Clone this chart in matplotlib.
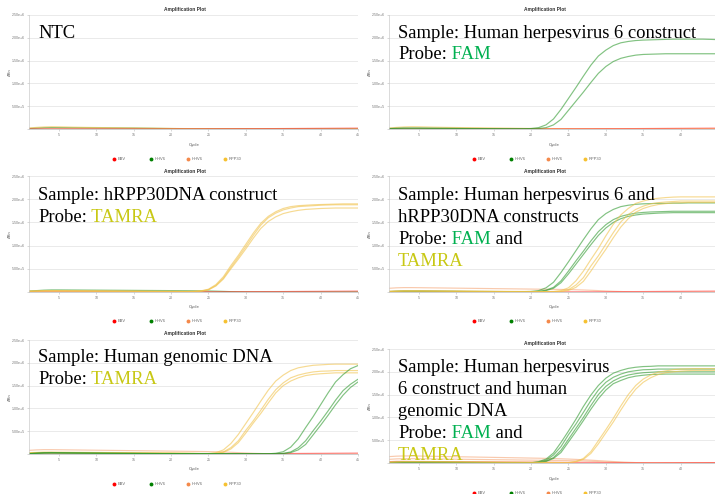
import matplotlib
matplotlib.use("Agg")
import matplotlib.pyplot as plt

W, H = 715, 494

# ---------------- data (dRn in units of 1e6, cycles 1..45) ----------------
cycles = list(range(1, 46))
y_tick_values = [0.0, 0.5, 1.0, 1.5, 2.0, 2.5]
y_tick_labels = ["", "5.00e+5", "1.00e+6", "1.50e+6", "2.00e+6", "2.50e+6"]
x_tick_values = [5, 10, 15, 20, 25, 30, 35, 40, 45]
x_tick_labels = ["5", "10", "15", "20", "25", "30", "35", "40", "45"]
legend_names = ["EBV", "HHV6", "HHV6", "RPP30"]

bump_a = [0.020,0.035,0.045,0.050,0.048,0.044,0.040,0.037,0.034,0.032,
          0.030,0.028,0.026,0.024,0.022,0.020,0.018,0.016,0.014,0.012,
          0.010,0.009,0.008,0.007,0.006,0.005,0.005,0.004,0.004,0.004,
          0.003,0.003,0.003,0.003,0.003,0.003,0.003,0.003,0.003,0.003,
          0.003,0.003,0.003,0.003,0.003]
bump_b = [0.010,0.020,0.028,0.031,0.030,0.029,0.028,0.027,0.026,0.025,
          0.024,0.023,0.022,0.021,0.020,0.018,0.016,0.014,0.012,0.010,
          0.009,0.008,0.007,0.006,0.005,0.004,0.004,0.003,0.003,0.003,
          0.002,0.002,0.002,0.002,0.002,0.002,0.002,0.002,0.002,0.002,
          0.002,0.002,0.002,0.002,0.002]
red_base = [0.002,0.002,0.002,0.002,0.002,0.002,0.002,0.002,0.002,0.002,
            0.002,0.002,0.002,0.002,0.002,0.002,0.002,0.002,0.002,0.002,
            0.003,0.003,0.004,0.004,0.005,0.005,0.006,0.006,0.007,0.007,
            0.008,0.008,0.009,0.009,0.010,0.011,0.012,0.013,0.014,0.015,
            0.016,0.017,0.018,0.019,0.020]
red_fade = [0.030,0.035,0.035,0.034,0.033,0.032,0.031,0.030,0.029,0.028,
            0.027,0.026,0.025,0.024,0.023,0.022,0.021,0.020,0.019,0.018,
            0.017,0.016,0.015,0.014,0.013,0.012,0.011,0.010,0.009,0.008,
            0.007,0.006,0.005,0.005,0.005,0.005,0.005,0.006,0.006,0.007,
            0.007,0.008,0.008,0.009,0.009]
orange_low = [0.012,0.015,0.016,0.016,0.016,0.015,0.015,0.014,0.014,0.013,
              0.013,0.012,0.012,0.011,0.011,0.010,0.010,0.009,0.009,0.008,
              0.008,0.007,0.007,0.006,0.006,0.005,0.005,0.005,0.004,0.004,
              0.004,0.004,0.003,0.003,0.003,0.003,0.003,0.003,0.003,0.003,
              0.003,0.003,0.003,0.003,0.003]
orange_high = [0.080,0.090,0.095,0.095,0.093,0.091,0.089,0.087,0.085,0.083,
               0.081,0.079,0.077,0.075,0.073,0.071,0.069,0.067,0.065,0.063,
               0.061,0.059,0.057,0.055,0.052,0.048,0.043,0.037,0.030,0.022,
               0.015,0.010,0.006,0.004,0.003,0.002,0.002,0.002,0.002,0.002,
               0.002,0.002,0.002,0.002,0.002]
orange_top = [0.140,0.150,0.155,0.155,0.153,0.150,0.147,0.144,0.141,0.138,
              0.135,0.132,0.129,0.126,0.123,0.120,0.117,0.114,0.111,0.108,
              0.105,0.101,0.097,0.092,0.086,0.079,0.071,0.062,0.052,0.042,
              0.032,0.023,0.015,0.009,0.005,0.003,0.003,0.003,0.003,0.003,
              0.003,0.003,0.003,0.003,0.003]

hhv6_a = [0.010,0.015,0.020,0.020,0.020,0.018,0.016,0.015,0.014,0.013,
          0.012,0.011,0.010,0.009,0.008,0.007,0.006,0.006,0.006,0.010,
          0.03,0.09,0.22,0.43,0.67,0.91,1.16,1.40,1.60,1.73,
          1.83,1.89,1.92,1.94,1.95,1.955,1.96,1.965,1.97,1.97,
          1.97,1.97,1.97,1.965,1.96]
hhv6_b = [0.008,0.012,0.015,0.015,0.015,0.014,0.013,0.012,0.011,0.010,
          0.009,0.008,0.007,0.007,0.006,0.006,0.005,0.005,0.005,0.005,
          0.01,0.03,0.09,0.21,0.41,0.61,0.81,1.02,1.22,1.37,
          1.48,1.55,1.59,1.62,1.635,1.64,1.645,1.65,1.65,1.65,
          1.65,1.65,1.65,1.65,1.65]

rpp_a = [0.020,0.025,0.030,0.030,0.030,0.029,0.028,0.027,0.026,0.025,
         0.024,0.023,0.022,0.021,0.020,0.019,0.018,0.017,0.016,0.015,
         0.014,0.013,0.015,0.025,0.06,0.16,0.33,0.57,0.79,1.03,
         1.27,1.48,1.63,1.73,1.80,1.84,1.86,1.87,1.88,1.885,
         1.89,1.895,1.90,1.90,1.90]
rpp_b = [0.015,0.020,0.025,0.025,0.025,0.024,0.023,0.022,0.021,0.020,
         0.019,0.018,0.017,0.016,0.015,0.014,0.013,0.012,0.012,0.011,
         0.011,0.010,0.012,0.020,0.05,0.14,0.30,0.53,0.75,0.98,
         1.22,1.44,1.60,1.70,1.77,1.81,1.84,1.85,1.86,1.87,
         1.875,1.88,1.88,1.88,1.88]
rpp_c = [0.012,0.016,0.020,0.020,0.020,0.019,0.018,0.017,0.016,0.015,
         0.014,0.013,0.012,0.011,0.010,0.010,0.009,0.009,0.008,0.008,
         0.008,0.008,0.010,0.015,0.045,0.13,0.28,0.50,0.71,0.93,
         1.16,1.37,1.52,1.62,1.69,1.73,1.76,1.78,1.79,1.80,
         1.805,1.81,1.81,1.81,1.81]
p3_green = [0.020,0.030,0.040,0.045,0.045,0.044,0.043,0.042,0.041,0.040,
            0.039,0.038,0.037,0.036,0.035,0.034,0.033,0.032,0.031,0.030,
            0.029,0.028,0.027,0.025,0.022,0.018,0.013,0.008,0.005,0.003,
            0.002,0.002,0.002,0.002,0.002,0.002,0.002,0.002,0.002,0.002,
            0.002,0.002,0.002,0.002,0.002]

p4_g1 = [0.010,0.015,0.020,0.020,0.020,0.019,0.018,0.017,0.016,0.015,
         0.014,0.013,0.012,0.011,0.010,0.009,0.008,0.008,0.008,0.012,
         0.03,0.09,0.21,0.42,0.65,0.89,1.13,1.36,1.56,1.69,
         1.78,1.84,1.87,1.89,1.90,1.905,1.91,1.91,1.915,1.915,
         1.92,1.92,1.92,1.92,1.92]
p4_g2 = [0.008,0.012,0.015,0.015,0.015,0.014,0.013,0.012,0.011,0.010,
         0.009,0.008,0.007,0.007,0.006,0.006,0.005,0.005,0.005,0.006,
         0.012,0.04,0.10,0.24,0.45,0.67,0.88,1.10,1.30,1.45,
         1.56,1.63,1.67,1.70,1.715,1.725,1.73,1.735,1.74,1.74,
         1.74,1.74,1.74,1.74,1.74]
p4_g3 = [0.008,0.012,0.015,0.015,0.015,0.014,0.013,0.012,0.011,0.010,
         0.009,0.008,0.007,0.007,0.006,0.006,0.005,0.005,0.005,0.005,
         0.01,0.03,0.08,0.20,0.39,0.60,0.81,1.02,1.22,1.38,
         1.50,1.58,1.63,1.66,1.68,1.69,1.70,1.705,1.71,1.71,
         1.71,1.71,1.71,1.71,1.71]
p4_y1 = [0.015,0.020,0.025,0.025,0.025,0.024,0.023,0.022,0.021,0.020,
         0.019,0.018,0.017,0.016,0.015,0.014,0.013,0.012,0.012,0.011,
         0.011,0.010,0.012,0.03,0.09,0.24,0.45,0.70,0.94,1.21,
         1.46,1.66,1.80,1.91,1.96,2.00,2.02,2.035,2.045,2.05,
         2.05,2.05,2.05,2.05,2.05]
p4_y2 = [0.012,0.016,0.020,0.020,0.020,0.019,0.018,0.017,0.016,0.015,
         0.014,0.013,0.012,0.011,0.010,0.010,0.009,0.009,0.008,0.008,
         0.008,0.008,0.008,0.016,0.05,0.15,0.31,0.56,0.78,1.03,
         1.28,1.51,1.67,1.78,1.85,1.90,1.925,1.94,1.95,1.96,
         1.96,1.96,1.96,1.96,1.96]
p4_y3 = [0.010,0.014,0.018,0.018,0.018,0.017,0.016,0.015,0.014,0.013,
         0.012,0.011,0.010,0.010,0.009,0.009,0.008,0.008,0.007,0.007,
         0.007,0.007,0.007,0.008,0.033,0.10,0.23,0.45,0.69,0.92,
         1.17,1.40,1.58,1.72,1.80,1.85,1.885,1.905,1.92,1.925,
         1.93,1.93,1.93,1.93,1.93]

p5_y1 = [0.030,0.035,0.040,0.040,0.039,0.038,0.037,0.036,0.035,0.034,
         0.033,0.032,0.031,0.030,0.029,0.028,0.027,0.026,0.025,0.024,
         0.022,0.020,0.017,0.012,0.012,0.03,0.09,0.23,0.43,0.67,
         0.91,1.16,1.40,1.60,1.73,1.83,1.89,1.92,1.945,1.955,
         1.965,1.97,1.97,1.97,1.97]
p5_y2 = [0.025,0.030,0.034,0.034,0.033,0.032,0.031,0.030,0.029,0.028,
         0.027,0.026,0.025,0.024,0.023,0.022,0.021,0.020,0.019,0.018,
         0.016,0.014,0.012,0.010,0.008,0.015,0.046,0.14,0.29,0.52,
         0.73,0.96,1.20,1.41,1.56,1.67,1.73,1.77,1.80,1.815,
         1.82,1.83,1.83,1.83,1.83]
p5_y3 = [0.020,0.025,0.028,0.028,0.027,0.026,0.025,0.024,0.023,0.022,
         0.021,0.020,0.019,0.018,0.017,0.016,0.015,0.014,0.013,0.012,
         0.011,0.010,0.009,0.008,0.006,0.010,0.036,0.11,0.25,0.46,
         0.68,0.89,1.12,1.34,1.50,1.60,1.67,1.72,1.745,1.76,
         1.77,1.78,1.78,1.78,1.78]
p5_g1 = [0.010,0.020,0.030,0.032,0.030,0.028,0.026,0.024,0.022,0.020,
         0.018,0.017,0.016,0.015,0.014,0.013,0.012,0.011,0.010,0.010,
         0.009,0.009,0.008,0.008,0.007,0.007,0.006,0.006,0.005,0.005,
         0.005,0.004,0.004,0.016,0.05,0.15,0.33,0.58,0.82,1.08,
         1.34,1.58,1.74,1.87,1.94]
p5_g2 = [0.008,0.015,0.022,0.024,0.023,0.022,0.021,0.020,0.019,0.018,
         0.017,0.016,0.015,0.014,0.013,0.012,0.011,0.010,0.009,0.009,
         0.008,0.008,0.007,0.007,0.006,0.006,0.005,0.005,0.005,0.004,
         0.004,0.004,0.004,0.004,0.014,0.045,0.135,0.29,0.51,0.72,
         0.945,1.18,1.39,1.53,1.64]
p5_g3 = [0.006,0.012,0.018,0.020,0.019,0.018,0.017,0.016,0.015,0.014,
         0.013,0.012,0.011,0.010,0.010,0.009,0.009,0.008,0.008,0.007,
         0.007,0.006,0.006,0.005,0.005,0.005,0.004,0.004,0.004,0.004,
         0.004,0.004,0.004,0.004,0.007,0.03,0.09,0.21,0.42,0.63,
         0.85,1.08,1.29,1.46,1.58]

p6_g1 = [0.010,0.015,0.020,0.020,0.020,0.019,0.018,0.017,0.016,0.015,
         0.014,0.013,0.012,0.011,0.010,0.009,0.008,0.007,0.006,0.005,
         0.03,0.085,0.22,0.45,0.70,0.96,1.24,1.49,1.70,1.86,
         1.97,2.03,2.075,2.10,2.115,2.12,2.13,2.13,2.13,2.13,
         2.13,2.13,2.13,2.13,2.13]
p6_g2 = [0.009,0.013,0.017,0.017,0.017,0.016,0.015,0.014,0.013,0.012,
         0.011,0.010,0.009,0.009,0.008,0.007,0.006,0.006,0.005,0.004,
         0.02,0.06,0.175,0.36,0.62,0.855,1.11,1.37,1.60,1.77,
         1.88,1.95,2.00,2.025,2.045,2.05,2.06,2.06,2.06,2.06,
         2.06,2.06,2.06,2.06,2.06]
p6_g3 = [0.008,0.012,0.015,0.015,0.015,0.014,0.013,0.012,0.011,0.010,
         0.009,0.008,0.008,0.007,0.007,0.006,0.005,0.005,0.004,0.004,
         0.01,0.04,0.12,0.28,0.52,0.76,1.00,1.26,1.50,1.68,
         1.80,1.88,1.93,1.96,1.98,1.99,2.00,2.00,2.00,2.00,
         2.00,2.00,2.00,2.00,2.00]
p6_g4 = [0.007,0.011,0.014,0.014,0.014,0.013,0.012,0.011,0.010,0.009,
         0.009,0.008,0.007,0.007,0.006,0.006,0.005,0.005,0.004,0.004,
         0.008,0.033,0.10,0.23,0.46,0.69,0.93,1.18,1.41,1.60,
         1.74,1.81,1.87,1.905,1.925,1.94,1.945,1.95,1.95,1.95,
         1.95,1.95,1.95,1.95,1.95]
p6_y1 = [0.020,0.025,0.030,0.030,0.030,0.029,0.028,0.027,0.026,0.025,
         0.024,0.023,0.022,0.021,0.020,0.019,0.018,0.017,0.016,0.015,
         0.014,0.013,0.012,0.010,0.010,0.035,0.10,0.25,0.49,0.73,
         0.98,1.25,1.50,1.70,1.84,1.93,1.99,2.02,2.045,2.06,
         2.065,2.07,2.07,2.07,2.07]
p6_y2 = [0.016,0.020,0.024,0.024,0.024,0.023,0.022,0.021,0.020,0.019,
         0.018,0.017,0.016,0.015,0.014,0.013,0.012,0.012,0.011,0.011,
         0.010,0.010,0.009,0.008,0.006,0.025,0.08,0.21,0.42,0.66,
         0.90,1.16,1.41,1.62,1.77,1.87,1.94,1.98,2.00,2.015,
         2.025,2.03,2.03,2.03,2.03]

# ---------------- styles ----------------
LINE = {"red": ("#ff4040", 0.6), "green": ("#2f9a2f", 0.6),
        "orange": ("#f3945c", 0.5), "gold": ("#f1c24a", 0.6)}
LEGEND_COLORS = ["#ff0000", "#008000", "#f4894a", "#f6c131"]
FAM = "#00b050"
TAMRA = "#c8c814"
K = "#000000"
SANS = ["Liberation Sans", "DejaVu Sans"]
SERIF = ["Liberation Serif", "DejaVu Serif"]
FS = 13.4

panels = [
    dict(box=(29, 15, 358, 129), title_y=10, cycle_y=145, legend_y=159, full_x=True,
         curves=[("orange", orange_low), ("green", bump_b), ("gold", bump_a), ("red", red_base)],
         text_x=38, lines=[(38, [("NTC", K)])]),
    dict(box=(389, 15, 718, 129), title_y=10, cycle_y=145, legend_y=159, full_x=False,
         curves=[("orange", orange_low), ("gold", bump_a), ("red", red_base),
                 ("green", hhv6_a), ("green", hhv6_b)],
         text_x=398, lines=[(38, [("Sample: Human herpesvirus 6 construct", K)]),
                            (59, [("Probe:", K), (" FAM", FAM)])]),
    dict(box=(29, 176, 358, 292), title_y=171, cycle_y=307, legend_y=321, full_x=True,
         curves=[("orange", orange_low), ("green", p3_green), ("red", red_base),
                 ("gold", rpp_a), ("gold", rpp_b), ("gold", rpp_c)],
         text_x=38, lines=[(200, [("Sample: hRPP30DNA construct", K)]),
                           (222, [("Probe:", K), (" TAMRA", TAMRA)])]),
    dict(box=(389, 176, 718, 292), title_y=171, cycle_y=307, legend_y=321, full_x=False,
         curves=[("orange", orange_high), ("red", red_base),
                 ("green", p4_g1), ("green", p4_g2), ("green", p4_g3),
                 ("gold", p4_y1), ("gold", p4_y2), ("gold", p4_y3)],
         text_x=398, lines=[(200, [("Sample: Human herpesvirus 6 and", K)]),
                            (222, [("hRPP30DNA constructs", K)]),
                            (244, [("Probe:", K), (" FAM", FAM), (" and", K)]),
                            (266, [("TAMRA", TAMRA)])]),
    dict(box=(29, 340, 358, 454), title_y=333, cycle_y=469, legend_y=484, full_x=True,
         curves=[("orange", orange_high), ("red", red_base),
                 ("gold", p5_y1), ("gold", p5_y2), ("gold", p5_y3),
                 ("green", p5_g1), ("green", p5_g2), ("green", p5_g3)],
         text_x=38, lines=[(362, [("Sample: Human genomic DNA", K)]),
                           (384, [("Probe:", K), (" TAMRA", TAMRA)])]),
    dict(box=(389, 349, 718, 463), title_y=343, cycle_y=479, legend_y=493, full_x=False,
         curves=[("orange", orange_top), ("orange", orange_high), ("red", red_fade),
                 ("green", p6_g1), ("green", p6_g2), ("green", p6_g3), ("green", p6_g4),
                 ("gold", p6_y1), ("gold", p6_y2)],
         text_x=398, lines=[(372, [("Sample: Human herpesvirus", K)]),
                            (394, [("6 construct and human", K)]),
                            (416, [("genomic DNA", K)]),
                            (438, [("Probe:", K), (" FAM", FAM), (" and", K)]),
                            (460, [("TAMRA", TAMRA)])]),
]

for p in panels:
    for _, arr in p["curves"]:
        if len(arr) != len(cycles):
            raise ValueError("bad length %d" % len(arr))

fig = plt.figure(figsize=(W / 100, H / 100), dpi=100)
fig.patch.set_facecolor("white")

for p in panels:
    L, T, R, B = p["box"]
    ax = fig.add_axes([L / W, 1 - B / H, (R - L) / W, (B - T) / H])
    ax.set_facecolor("white")
    for key, arr in p["curves"]:
        c, a = LINE[key]
        ax.plot(cycles, arr, color=c, alpha=a, lw=0.85, solid_capstyle="round")
    ax.set_xlim(1, 45)
    ax.set_ylim(0, 2.5)
    ax.set_yticks(y_tick_values)
    ax.set_yticklabels(y_tick_labels, fontsize=2.6, color="#777777", family=SANS)
    if p["full_x"]:
        xt, xl = x_tick_values, x_tick_labels
    else:
        xt, xl = x_tick_values[:-1], x_tick_labels[:-1]
    ax.set_xticks(xt)
    ax.set_xticklabels(xl, fontsize=2.6, color="#777777", family=SANS)
    ax.set_xticks([10, 20, 30, 40], minor=True)
    ax.tick_params(axis="both", which="major", length=1.5, width=0.4,
                   color="#bbbbbb", pad=1.5)
    ax.tick_params(axis="x", which="minor", length=0)
    ax.grid(axis="y", which="major", color="#e6e6e6", lw=0.6)
    ax.grid(axis="x", which="minor", color="#e6e6e6", lw=0.6)
    ax.set_axisbelow(True)
    for s in ("top", "right"):
        ax.spines[s].set_visible(False)
    ax.spines["left"].set_color("#cccccc")
    ax.spines["left"].set_linewidth(0.5)
    ax.spines["bottom"].set_color("#bbbbbb")
    ax.spines["bottom"].set_linewidth(0.5)

# overlay in pixel coordinates (y down)
ax_o = fig.add_axes([0, 0, 1, 1])
ax_o.set_xlim(0, W)
ax_o.set_ylim(H, 0)
ax_o.axis("off")
ax_o.set_zorder(10)

for p in panels:
    L, T, R, B = p["box"]
    ax_o.text(L + 156, p["title_y"], "Amplification Plot", ha="center", va="center",
              fontsize=3.5, fontweight="bold", color="#333333", family=SANS)
    ax_o.text(L + 165, p["cycle_y"], "Cycle", ha="center", va="center",
              fontsize=3.2, color="#555555", family=SANS)
    ax_o.text(L - 19, (T + B) / 2, "ΔRn", ha="center", va="center", rotation=90,
              fontsize=2.8, color="#555555", family=SANS)
    for k, (name, col) in enumerate(zip(legend_names, LEGEND_COLORS)):
        x0 = L + 85 + 37 * k
        ax_o.plot([x0], [p["legend_y"]], "o", ms=2.8, color=col, mec="none", clip_on=False)
        ax_o.text(x0 + 3.5, p["legend_y"], name, ha="left", va="center",
                  fontsize=2.9, color="#666666", family=SANS, clip_on=False)
    for yb, parts in p["lines"]:
        t = None
        for s, col in parts:
            if t is None:
                t = ax_o.text(p["text_x"], yb, s, ha="left", va="baseline",
                              fontsize=FS, color=col, family=SERIF)
            else:
                t = ax_o.annotate(s, xy=(1, 0), xycoords=t, ha="left", va="bottom",
                                  fontsize=FS, color=col, family=SERIF)

fig.savefig("out.png", dpi=100, facecolor="white")
